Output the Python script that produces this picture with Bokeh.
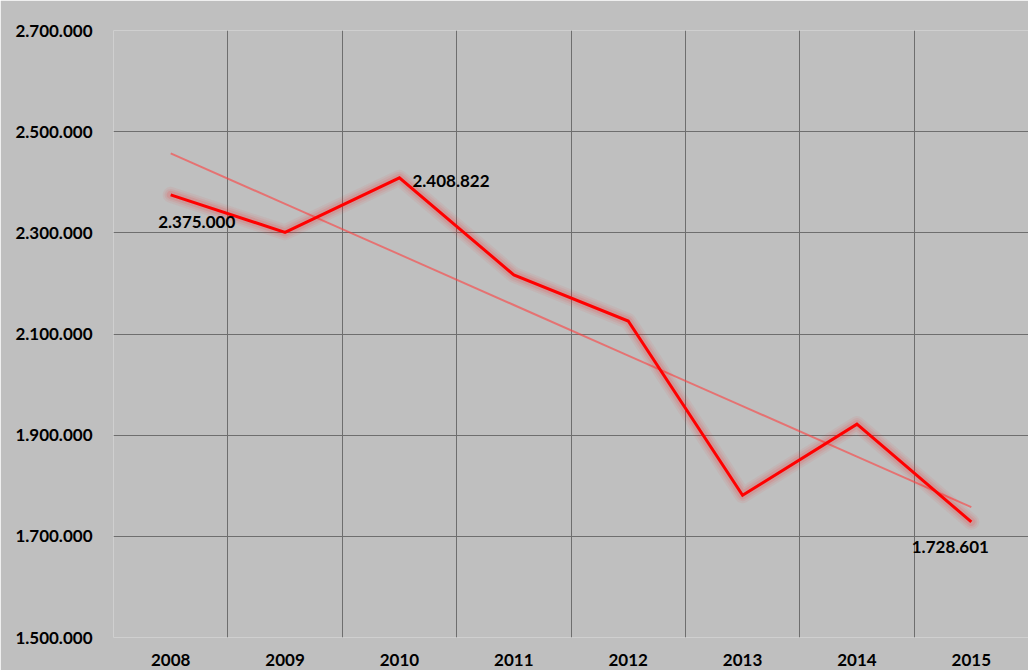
import numpy as np
from bokeh.plotting import figure
from bokeh.models import FixedTicker, ColumnDataSource, Range1d
from bokeh.core.properties import value
from bokeh.embed import file_html
from bokeh.resources import INLINE

years = ["2008", "2009", "2010", "2011", "2012", "2013", "2014", "2015"]
values = [2375000, 2301000, 2408822, 2216800, 2125700, 1781200, 1921800, 1728601]
y_ticks = [1500000, 1700000, 1900000, 2100000, 2300000, 2500000, 2700000]
label_years = ["2008", "2010", "2015"]
label_texts = ["2.375.000", "2.408.822", "1.728.601"]

FONT = "Lato"
BG = "#bfbfbf"

xs = np.arange(len(years)) + 0.5
slope, intercept = np.polyfit(np.arange(len(years)), values, 1)
trend = slope * np.arange(len(years)) + intercept

p = figure(width=1028, height=670, output_backend="svg", toolbar_location=None,
           x_range=Range1d(0, len(years)), y_range=Range1d(y_ticks[0], y_ticks[-1]),
           min_border_left=113, min_border_right=0, min_border_top=30, min_border_bottom=33)
p.background_fill_color = BG
p.border_fill_color = BG
p.outline_line_color = None

# grids
p.xgrid.ticker = FixedTicker(ticks=list(range(len(years) + 1)))
p.ygrid.ticker = FixedTicker(ticks=y_ticks)
for g in (p.xgrid[0], p.ygrid[0]):
    g.grid_line_color = "#6e6e6e"
    g.grid_line_width = 1
    g.grid_line_alpha = 1

# axes
p.xaxis.ticker = FixedTicker(ticks=list(xs))
p.xaxis.major_label_overrides = {float(x): y for x, y in zip(xs, years)}
p.yaxis.ticker = FixedTicker(ticks=y_ticks)
p.yaxis.major_label_overrides = {t: f"{t:,}".replace(",", ".") for t in y_ticks}
for ax in (p.xaxis[0], p.yaxis[0]):
    ax.axis_line_color = None
    ax.major_tick_line_color = None
    ax.minor_tick_line_color = None
    ax.major_tick_out = 0
    ax.major_tick_in = 0
    ax.major_label_text_font = FONT
    ax.major_label_text_font_style = "bold"
    ax.major_label_text_font_size = "17px"
    ax.major_label_text_color = "black"
p.xaxis.major_label_standoff = 16
p.yaxis.major_label_standoff = 21

src = ColumnDataSource(dict(x=xs, y=values))

# trend line
p.line(xs, trend, line_color="#ff4040", line_width=2, line_alpha=0.6)

# glow
for w, a in [(16, 0.06), (12, 0.08), (8, 0.12)]:
    p.line("x", "y", source=src, line_color="#ff2020", line_width=w, line_alpha=a,
           line_join="round", line_cap="round")
p.line("x", "y", source=src, line_color="#ff0000", line_width=3, line_join="miter")

# data labels
idx = [years.index(y) for y in label_years]
lx = [xs[i] for i in idx]
ly = [values[i] for i in idx]
offsets = [(26, 27, "center"), (13, 3, "left"), (-21, 25, "center")]
for x, y, t, (dx, dy, al) in zip(lx, ly, label_texts, offsets):
    p.text([x], [y], text=[t], x_offset=dx, y_offset=dy, text_align=al,
           text_baseline="middle", text_font=value(FONT), text_font_style="bold",
           text_font_size="17px", text_color="black")

open("out.html", "w").write(file_html(p, INLINE))
